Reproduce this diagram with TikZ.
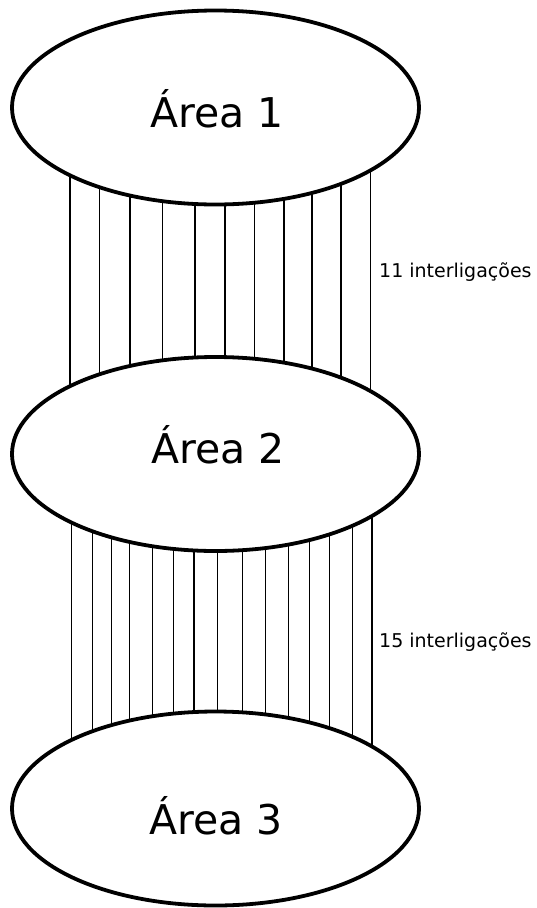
\documentclass[tikz,border=0pt]{standalone}
\usepackage{fontspec}
\setmainfont{DejaVu Sans}
\usetikzlibrary{shapes.geometric,calc}

\tikzset{
  area/.style={ellipse, draw=black, line width=3.8pt, fill=white,
               minimum width=407pt, minimum height=194pt, inner sep=0pt},
  areatext/.style={anchor=base, inner sep=0pt, font=\fontsize{41}{49}\selectfont},
  link/.style={draw=black, line width=1.3pt},
  countlabel/.style={anchor=base west, inner sep=0pt, font=\fontsize{19}{23}\selectfont},
}

% half axes of the area ellipses (centre line of the stroke)
\def\rxA{203.5}
\def\ryA{97}

\begin{document}
\begin{tikzpicture}[x=1pt,y=-1pt]
\useasboundingbox[fill=white] (0,0) rectangle (537,908);

% the three areas
\node[area] (a1) at (215.5,107.5) {};
\node[area] (a2) at (215.5,454)   {};
\node[area] (a3) at (215.5,808.5) {};

% interconnections between area 1 and area 2
\foreach \x in {70.1,99.2,130,162.4,194.9,225,254.8,283.9,311.9,340.9,370.4} {
  \pgfmathsetmacro{\dx}{\x-215.5}
  \pgfmathsetmacro{\dy}{\ryA*sqrt(1-(\dx/\rxA)^2)}
  \draw[link] ($(a1.center)+(\dx,\dy)$) -- ($(a2.center)+(\dx,-\dy)$);
}

% interconnections between area 2 and area 3
\foreach \x in {71.2,92.7,111.6,129.7,152.7,173.3,194.1,217.7,242.4,265.3,288.6,309.4,329.7,352.6,372.1} {
  \pgfmathsetmacro{\dx}{\x-215.5}
  \pgfmathsetmacro{\dy}{\ryA*sqrt(1-(\dx/\rxA)^2)}
  \draw[link] ($(a2.center)+(\dx,\dy)$) -- ($(a3.center)+(\dx,-\dy)$);
}

% area names
\node[areatext] (t1) at ($(a1.center)+(1.5,19.5)$) {Área 1};
\node[areatext] (t2) at ($(a2.center)+(2.5,9)$)    {Área 2};
\node[areatext] (t3) at ($(a3.center)+(0.5,25.5)$) {Área 3};

% counts of interconnections
\node[countlabel] (l1) at (379,277) {11 interligações};
\node[countlabel] (l2) at (379,647) {15 interligações};
\end{tikzpicture}
\end{document}
